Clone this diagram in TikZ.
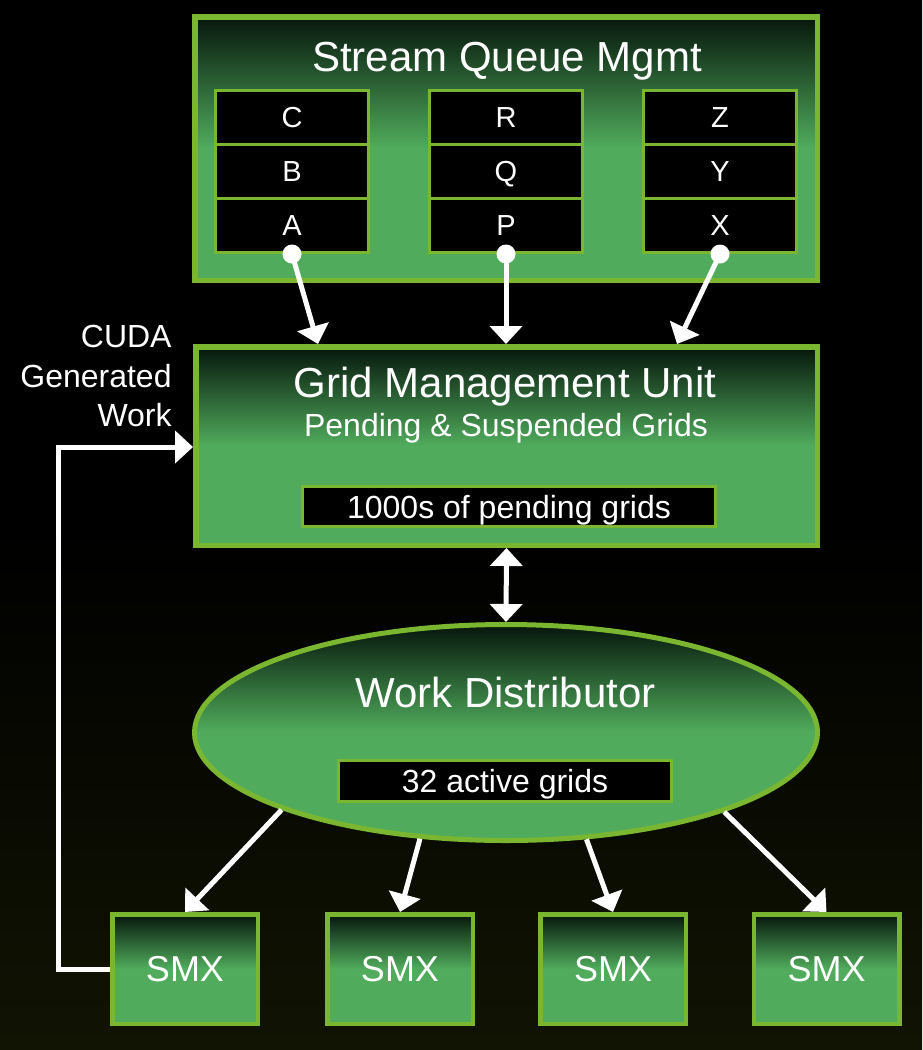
\documentclass[tikz,border=0pt]{standalone}
\usepackage{fontspec}
\setmainfont{Liberation Sans}
\usetikzlibrary{matrix,calc,shapes.geometric,arrows.meta}

\definecolor{nvline}{RGB}{122,182,48}
\definecolor{nvtop}{RGB}{6,22,12}
\definecolor{nvmid}{RGB}{80,172,92}
\definecolor{bgbot}{RGB}{17,20,3}

\begin{document}
\begin{tikzpicture}[x=0.5pt,y=-0.5pt]
  \tikzstyle{unit} = [rectangle, draw=nvline, line width=2.75pt, top color=nvtop,
  bottom color=nvmid, middle color=nvmid, inner sep=0pt]
  \tikzstyle{cell} = [rectangle, draw=nvline, line width=1.5pt, fill=black,
  text=white, minimum width=76.5pt, minimum height=27pt, inner sep=0pt,
  font=\fontsize{14.5pt}{14.5pt}\selectfont, text height=10.4pt, text depth=0pt]
  \tikzstyle{gbox} = [rectangle, draw=nvline, line width=1.5pt, fill=black,
  text=white, inner sep=0pt, font=\fontsize{16pt}{16pt}\selectfont,
  text height=11.5pt, text depth=0pt]
  \tikzstyle{hdr} = [text=white, inner sep=0pt, anchor=base,
  font=\fontsize{21pt}{21pt}\selectfont]
  \tikzstyle{subhdr} = [text=white, inner sep=0pt, anchor=base,
  font=\fontsize{16pt}{16pt}\selectfont]
  \tikzstyle{smx} = [unit, line width=2.25pt, minimum width=72.75pt,
  minimum height=54.75pt, text=white, font=\fontsize{18pt}{18pt}\selectfont,
  text height=12.9pt, text depth=0pt]
  \tikzstyle{qdot} = [circle, fill=white, minimum size=9.5pt, inner sep=0pt]

  \tikzstyle{ref} = [-{Triangle[width=16pt,length=9pt]}, draw=white,
  line width=2.5pt]
  \tikzstyle{dref} = [{Triangle[width=16pt,length=9pt]}-{Triangle[width=16pt,length=9pt]},
  draw=white, line width=2.5pt]

  % background
  \fill[top color=black, bottom color=bgbot, middle color=black]
  (0,0) rectangle (922,1050);
  \useasboundingbox (0,0) rectangle (922,1050);

  % stream queues
  \node[unit, minimum width=311.25pt, minimum height=131.75pt] (sqm) at (506,148.5) {};
  \node[hdr] (sqmtitle) at (507,71) {Stream Queue Mgmt};

  \node [matrix, inner sep=0pt, row sep=-1.5pt] (queue1) at (292,171.5)
  {
    \node[cell,name=qc]{C}; \\
    \node[cell,name=qb]{B}; \\
    \node[cell,name=qa]{A}; \\
  };
  \node [matrix, inner sep=0pt, row sep=-1.5pt] (queue2) at (506,171.5)
  {
    \node[cell,name=qr]{R}; \\
    \node[cell,name=qq]{Q}; \\
    \node[cell,name=qp]{P}; \\
  };
  \node [matrix, inner sep=0pt, row sep=-1.5pt] (queue3) at (720,171.5)
  {
    \node[cell,name=qz]{Z}; \\
    \node[cell,name=qy]{Y}; \\
    \node[cell,name=qx]{X}; \\
  };

  % grid management unit
  \node[unit, minimum width=310.75pt, minimum height=99.25pt] (gmu) at (506.5,446) {};
  \node[hdr] (gmutitle) at (505,397) {Grid Management Unit};
  \node[subhdr] (gmusub) at (506,436) {Pending \& Suspended Grids};
  \node[gbox, minimum width=206.5pt, minimum height=20pt] (pending) at (509,506.5)
  {1000s of pending grids};

  % work distributor
  \node[ellipse, draw=nvline, line width=2.5pt, top color=nvtop, bottom color=nvmid,
  middle color=nvmid, minimum width=311.5pt, minimum height=108pt, inner sep=0pt]
  (wdist) at (506,732.5) {};
  \node[hdr] (wdtitle) at (505.5,707) {Work Distributor};
  \node[gbox, minimum width=166.25pt, minimum height=20.5pt] (active) at (505,781)
  {32 active grids};

  % SMX units
  \node[smx] (smx1) at (185,969) {SMX};
  \node[smx] (smx2) at (400,969) {SMX};
  \node[smx] (smx3) at (613,969) {SMX};
  \node[smx] (smx4) at (826.5,969) {SMX};

  \node[text=white, inner sep=0pt, anchor=north east, align=right,
  font=\fontsize{16pt}{19.75pt}\selectfont] (cudalbl) at (172,325)
  {CUDA\\Generated\\Work};

  % queue heads into the GMU
  \node[coordinate,name=ina] at (318,344) {};
  \node[coordinate,name=inp] at (506,344) {};
  \node[coordinate,name=inx] at (677,344) {};
  \path (qa.south) edge[ref] (ina);
  \path (qp.south) edge[ref] (inp);
  \path (qx.south) edge[ref] (inx);
  \node[qdot] (dota) at (qa.south) {};
  \node[qdot] (dotp) at (qp.south) {};
  \node[qdot] (dotx) at (qx.south) {};

  \path (gmu.south) edge[dref] (wdist.north);

  \path (wdist.199.4) edge[ref] (smx1.north);
  \path (wdist.231.3) edge[ref] (smx2.north);
  \path (wdist.307.7) edge[ref] (smx3.north);
  \path (wdist.340.6) edge[ref] (smx4.north);

  % generated work back to the GMU
  \node[coordinate,name=fbk] at (58,447) {};
  \draw[ref, line join=miter] (smx1.west) -| (fbk) -- (fbk -| gmu.west);

\end{tikzpicture}
\end{document}
